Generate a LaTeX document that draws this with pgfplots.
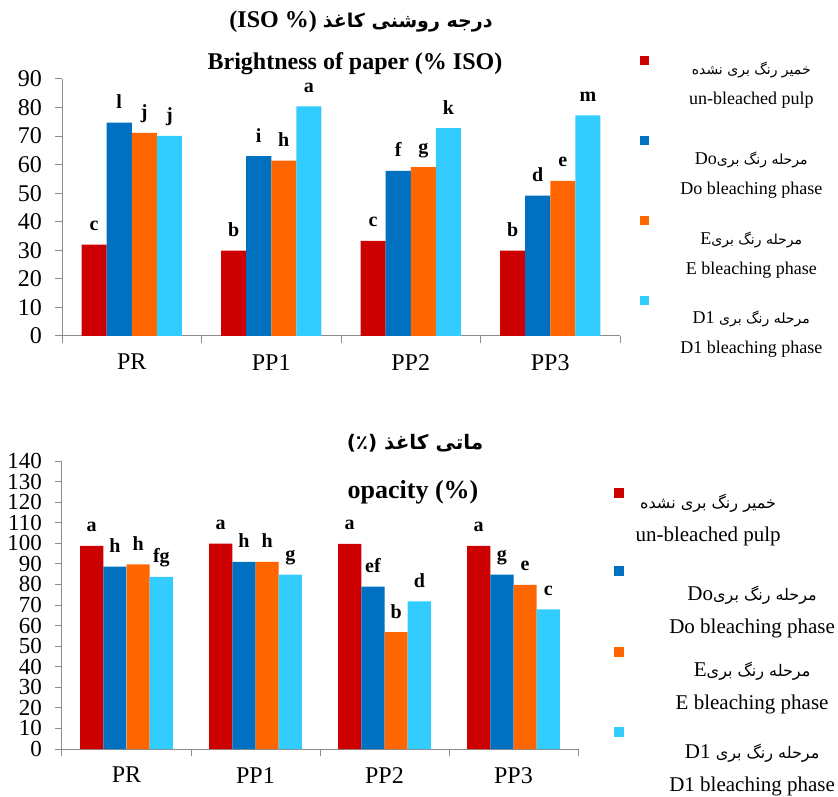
\documentclass[border=0pt]{standalone}
\usepackage{fontspec}
\setmainfont{Liberation Serif}
\newfontfamily\arabicfont[Script=Arabic]{DejaVu Sans}
\TeXXeTstate=1
\usepackage{pgfplots}
\usepackage{pgfplotstable}
\pgfplotsset{compat=1.18}
\definecolor{cred}{HTML}{CC0000}
\definecolor{cblue}{HTML}{0070C0}
\definecolor{corange}{HTML}{FF6600}
\definecolor{ccyan}{HTML}{33CCFF}
\definecolor{axgray}{HTML}{8C8C8C}

\pgfplotstableread{
x  red  blue orange cyan lr lb lo lc
0  32.0 74.7 71.1 70.1 c  l  j  j
1  29.9 63.0 61.4 80.4 b  i  h  a
2  33.3 57.8 59.1 72.8 c  f  g  k
3  29.9 49.2 54.3 77.3 b  d  e  m
}\brightness
\pgfplotstableread{
x  red  blue orange cyan lr lb lo lc
0  98.7 88.7 89.8 83.7 a  h  h  fg
1  99.8 91.0 91.0 84.8 a  h  h  g
2  99.7 78.9 56.8 71.8 a  ef b  d
3  98.7 84.8 79.8 67.9 a  g  e  c
}\opacity

\pgfplotsset{
  leg/.style n args={4}{legend image code/.code={\path[fill=none,draw=none] (0pt,-#3) rectangle (#4,#2+#4); \fill[#1] (0pt,#2) rectangle ++(#4,#4);}},
  mychart/.style={
    scale only axis,
    ybar=0pt, bar width=0.18,
    xmin=-0.5, xmax=3.5, ymin=0,
    axis lines*=left,
    axis line style={axgray, line width=1pt},
    xtick={-0.5,0.5,1.5,2.5,3.5}, xticklabels={},
    extra x ticks={0,1,2,3}, extra x tick labels={PR,PP1,PP2,PP3},
    extra x tick style={major tick length=0pt, xticklabel style={inner sep=0pt, yshift=-18pt}},
    tick align=outside, major tick length=7pt,
    tick style={axgray, line width=1pt},
    xticklabel style={font=\fontsize{24}{24}\selectfont},
    /pgf/number format/assume math mode=true,
    nodes near coords, point meta=explicit symbolic,
    every node near coord/.append style={font=\bfseries\fontsize{20}{20}\selectfont, anchor=base, yshift=14pt, text=black},
    clip=false,
  }
}

\begin{document}
\begin{tikzpicture}
\path[use as bounding box] (0pt,0pt) rectangle (838pt,796pt);

\begin{axis}[mychart,
  at={(62pt,460pt)}, anchor=south west, width=558pt, height=257pt,
  ymax=90, ytick={0,10,...,90},
  yticklabel style={inner sep=0pt, xshift=-13pt, font=\fontsize{24}{24}\selectfont},
  legend style={at={(axis description cs:1.036,1.089)}, anchor=north west, draw=none, fill=none,
    inner sep=0pt, row sep=0pt, column sep=29pt, font=\fontsize{18}{30}\selectfont,
    cells={align=center, anchor=center, inner sep=0pt}},
]
\addplot[fill=cred, draw=none, leg={cred}{19pt}{51.5pt}{9pt}] table[x=x, y=red, meta=lr] {\brightness};
\addlegendentry{{\arabicfont\fontsize{14}{30}\selectfont\beginR خمیر رنگ بری نشده\endR}\\un-bleached pulp}
\addplot[fill=cblue, draw=none, leg={cblue}{29pt}{42.5pt}{9pt}] table[x=x, y=blue, meta=lb] {\brightness};
\addlegendentry{Do{\arabicfont\fontsize{14}{30}\selectfont\beginR مرحله رنگ بری\endR}\\Do bleaching phase}
\addplot[fill=corange, draw=none, leg={corange}{29pt}{41.5pt}{9pt}] table[x=x, y=orange, meta=lo] {\brightness};
\addlegendentry{E{\arabicfont\fontsize{14}{30}\selectfont\beginR مرحله رنگ بری\endR}\\E bleaching phase}
\addplot[fill=ccyan, draw=none, leg={ccyan}{28.5pt}{24pt}{9pt}] table[x=x, y=cyan, meta=lc] {\brightness};
\addlegendentry{D1 {\arabicfont\fontsize{14}{30}\selectfont\beginR مرحله رنگ بری\endR}\\D1 bleaching phase}
\end{axis}

\node[font=\bfseries\fontsize{24}{24}\selectfont] at (361pt,774pt) {(ISO \%) {\arabicfont\fontsize{19}{24}\selectfont\beginR درجه روشنی کاغذ\endR}};
\node[font=\bfseries\fontsize{24}{24}\selectfont] at (355pt,732pt) {Brightness of paper (\% ISO)};

\begin{axis}[mychart,
  at={(62pt,47pt)}, anchor=south west, width=516pt, height=288pt,
  ymax=140, ytick={0,10,...,140},
  yticklabel style={inner sep=0pt, xshift=-13pt, font=\fontsize{23}{20}\selectfont},
  legend style={at={(axis description cs:1.070,0.906)}, anchor=north west, draw=none, fill=none,
    inner sep=0pt, row sep=0pt, column sep=43pt, font=\fontsize{21}{33}\selectfont,
    cells={align=center, anchor=center, inner sep=0pt}},
]
\addplot[fill=cred, draw=none, leg={cred}{20pt}{48pt}{10pt}] table[x=x, y=red, meta=lr] {\opacity};
\addlegendentry{\hspace*{-88pt}{\arabicfont\fontsize{16}{33}\selectfont\beginR خمیر رنگ بری نشده\endR}\\\hspace*{-88pt}un-bleached pulp}
\addplot[fill=cblue, draw=none, leg={cblue}{34pt}{37pt}{10pt}] table[x=x, y=blue, meta=lb] {\opacity};
\addlegendentry{Do{\arabicfont\fontsize{16}{33}\selectfont\beginR مرحله رنگ بری\endR}\\Do bleaching phase}
\addplot[fill=corange, draw=none, leg={corange}{29.5pt}{40.5pt}{10pt}] table[x=x, y=orange, meta=lo] {\opacity};
\addlegendentry{E{\arabicfont\fontsize{16}{33}\selectfont\beginR مرحله رنگ بری\endR}\\E bleaching phase}
\addplot[fill=ccyan, draw=none, leg={ccyan}{31pt}{27pt}{10pt}] table[x=x, y=cyan, meta=lc] {\opacity};
\addlegendentry{D1 {\arabicfont\fontsize{16}{33}\selectfont\beginR مرحله رنگ بری\endR}\\D1 bleaching phase}
\end{axis}

\node[font=\bfseries\fontsize{20}{24}\selectfont] at (415pt,353pt) {\arabicfont (٪) \beginR ماتی کاغذ\endR};
\node[font=\bfseries\fontsize{26}{26}\selectfont] at (413pt,304pt) {opacity (\%)};
\end{tikzpicture}
\end{document}
